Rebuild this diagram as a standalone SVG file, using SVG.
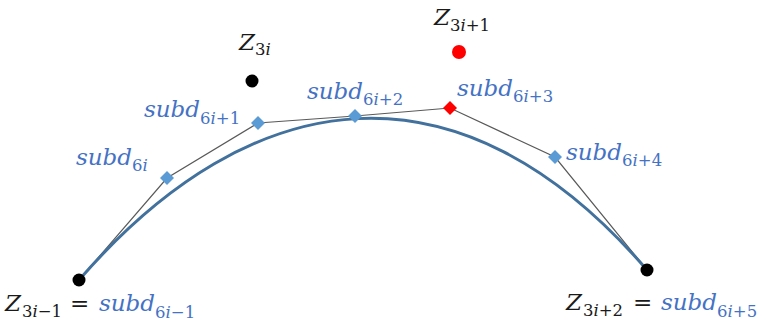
<svg xmlns="http://www.w3.org/2000/svg" width="766" height="325" viewBox="0 0 766 325">
<style>
.t{font-family:"DejaVu Serif","Liberation Serif",serif;font-style:italic;font-size:23px}
.s{font-size:16.5px}
.up{font-style:normal}
.blue{fill:#4472C4}
.blk{fill:#1a1a1a}
.dia{fill:#5B9BD5}
</style>
<defs>
<polygon id="d" points="0,-7 7,0 0,7 -7,0"/>
</defs>
<g id="connectors">
<polyline points="79,280 167,178 258,123 355,116 450,108 555,157 647,270" fill="none" stroke="#595959" stroke-width="1.2"/>
<path d="M79,280 C252,81 459,52 647,270" fill="none" stroke="#41719C" stroke-width="3"/>
</g>
<g id="Z3i-1"><circle cx="79" cy="280" r="6.5" fill="#000"/>
<text class="t blk" x="5" y="311">Z<tspan class="s" x="22" dy="6"><tspan class="up">3</tspan>i<tspan class="up">−1</tspan></tspan><tspan x="70" dy="-6" class="up">=</tspan><tspan x="99" class="blue">subd</tspan><tspan class="s blue" dy="7"><tspan class="up">6</tspan>i<tspan class="up">−1</tspan></tspan></text></g>
<g id="Z3i"><circle cx="252" cy="81" r="6.5" fill="#000"/>
<text class="t blk" x="239" y="50">Z<tspan class="s" dy="5"><tspan class="up">3</tspan>i</tspan></text></g>
<g id="Z3i1"><circle cx="459" cy="52" r="7" fill="#FF0000"/>
<text class="t blk" x="434" y="25">Z<tspan class="s" dy="6"><tspan class="up">3</tspan>i<tspan class="up">+1</tspan></tspan></text></g>
<g id="Z3i2"><circle cx="647" cy="270" r="6.5" fill="#000"/>
<text class="t blk" x="566" y="310">Z<tspan class="s" x="583" dy="6"><tspan class="up">3</tspan>i<tspan class="up">+2</tspan></tspan><tspan x="633" dy="-6" class="up">=</tspan><tspan x="661" class="blue">subd</tspan><tspan class="s blue" dy="7"><tspan class="up">6</tspan>i<tspan class="up">+5</tspan></tspan></text></g>
<g id="subd6i"><use href="#d" x="167" y="178" class="dia"/>
<text class="t blue" x="76" y="165">subd<tspan class="s" dy="6"><tspan class="up">6</tspan>i</tspan></text></g>
<g id="subd6i1"><use href="#d" x="258" y="123" class="dia"/>
<text class="t blue" x="144" y="117">subd<tspan class="s" dy="7"><tspan class="up">6</tspan>i<tspan class="up">+1</tspan></tspan></text></g>
<g id="subd6i2"><use href="#d" x="355" y="116" class="dia"/>
<text class="t blue" x="307" y="99">subd<tspan class="s" dy="6"><tspan class="up">6</tspan>i<tspan class="up">+2</tspan></tspan></text></g>
<g id="subd6i3"><use href="#d" x="450" y="108" fill="#FF0000"/>
<text class="t blue" x="457" y="96">subd<tspan class="s" dy="6"><tspan class="up">6</tspan>i<tspan class="up">+3</tspan></tspan></text></g>
<g id="subd6i4"><use href="#d" x="555" y="157" class="dia"/>
<text class="t blue" x="566" y="160">subd<tspan class="s" dy="6"><tspan class="up">6</tspan>i<tspan class="up">+4</tspan></tspan></text></g>
</svg>
